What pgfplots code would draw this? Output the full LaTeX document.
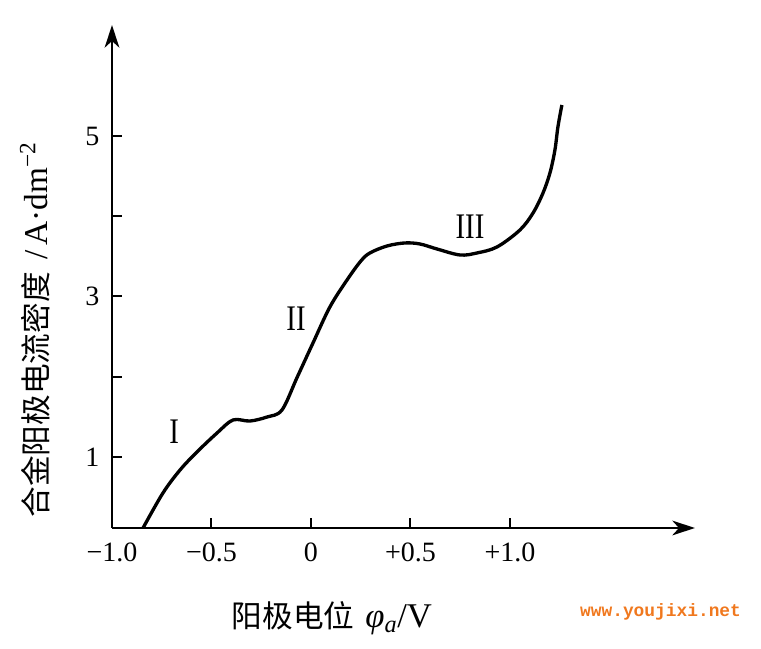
\documentclass[border=0pt]{standalone}
\usepackage{pgfplots}
\pgfplotsset{compat=1.18}
\usepackage{fontspec}
\setmainfont{Liberation Serif}
\newfontfamily\cjk{Noto Sans CJK SC}
\newfontfamily\wmfont{Liberation Mono}
\usetikzlibrary{arrows.meta}

\definecolor{wmorange}{RGB}{240,120,30}

\begin{document}
\begin{tikzpicture}
  % page = 761x649 px, 1 px = 0.75pt, axis corner at px (112,528)
  \useasboundingbox (-84pt,-90.75pt) rectangle (486.75pt,396pt);
  \begin{axis}[
      at={(0,0)}, anchor=south west,
      scale only axis,
      width=437.25pt, height=377.25pt,
      xmin=-1, xmax=1.93,
      ymin=0.115, ymax=6.383,
      axis lines=left,
      axis line style={line width=1.7pt, -{Stealth[length=17pt,width=11pt,inset=5pt]}},
      tick align=inside,
      major tick length=7.5pt,
      tick style={line width=1.5pt, black},
      xtick={-1,-0.5,0,0.5,1},
      xticklabels={−1.0,−0.5,0,+0.5,+1.0},
      ytick={1,2,3,4,5},
      yticklabels={1,,3,,5},
      xticklabel style={font=\fontsize{21}{21}\selectfont, yshift=-8pt},
      yticklabel style={font=\fontsize{21}{21}\selectfont, xshift=-6pt},
      clip=false,
    ]
    \addplot[black, line width=2.5pt, smooth, tension=0.55] coordinates {
      (-0.844,0.115)
      (-0.744,0.551)
      (-0.658,0.838)
      (-0.573,1.062)
      (-0.472,1.299)
      (-0.392,1.461)
      (-0.307,1.448)
      (-0.221,1.498)
      (-0.146,1.585)
      (-0.070,1.990)
      (0.010,2.420)
      (0.095,2.869)
      (0.181,3.205)
      (0.250,3.440)
      (0.296,3.542)
      (0.382,3.629)
      (0.472,3.667)
      (0.548,3.654)
      (0.633,3.592)
      (0.749,3.517)
      (0.834,3.542)
      (0.935,3.617)
      (1.050,3.828)
      (1.116,4.040)
      (1.166,4.289)
      (1.201,4.539)
      (1.226,4.825)
      (1.241,5.112)
      (1.261,5.386)
    };
    \node[font=\fontsize{27}{27}\selectfont] at (axis cs:-0.688,1.311) {\scalebox{0.8}[1]{I}};
    \node[font=\fontsize{27}{27}\selectfont] at (axis cs:-0.075,2.72) {\scalebox{0.8}[1]{II}};
    \node[font=\fontsize{27}{27}\selectfont] at (axis cs:0.799,3.866) {\scalebox{0.8}[1]{III}};
  \end{axis}
  \node[rotate=90, font=\fontsize{23}{23}\selectfont] at (-57.75pt,148.5pt)
    {{\cjk 合金阳极电流密度}\hspace{0.4em}{\fontsize{25}{25}\selectfont /\hspace{0.15em}A·dm\textsuperscript{−2}}};
  \node[font=\fontsize{23}{23}\selectfont] at (165pt,-68pt)
    {{\cjk 阳极电位}\hspace{0.35em}{\fontsize{26}{26}\selectfont\textit{φ}\textsubscript{\textit{a}}/V}};
  \node[font=\wmfont\bfseries\fontsize{13.4}{13.4}\selectfont, text=wmorange] at (411.4pt,-63pt)
    {www.youjixi.net};
\end{tikzpicture}
\end{document}
